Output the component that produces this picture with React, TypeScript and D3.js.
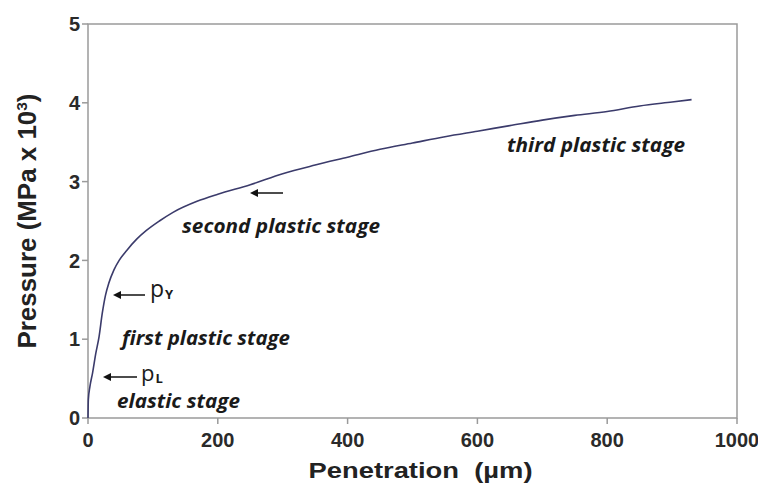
import React from 'react';
import * as d3 from 'd3';

// penetration (µm) vs pressure (MPa x 10^3)
const penetration = [0, 0.5, 3, 7, 12, 17, 22, 27, 32, 40, 48, 60, 75, 90, 110, 131, 168, 200, 250, 300, 350, 400, 450, 500, 550, 600, 650, 700, 750, 800, 850, 900, 930];
const pressure = [0, 0.23, 0.4, 0.57, 0.82, 1.03, 1.33, 1.56, 1.71, 1.88, 2.0, 2.13, 2.27, 2.38, 2.5, 2.61, 2.75, 2.84, 2.96, 3.1, 3.21, 3.31, 3.41, 3.49, 3.57, 3.64, 3.71, 3.78, 3.84, 3.89, 3.96, 4.01, 4.04];
const xTicks = [0, 200, 400, 600, 800, 1000];
const yTicks = [0, 1, 2, 3, 4, 5];

const W = 758;
const H = 484;
const margin = { left: 88, right: 21, top: 24, bottom: 66 };

const App = () => {
  const x = d3.scaleLinear().domain([0, 1000]).range([margin.left, W - margin.right]);
  const y = d3.scaleLinear().domain([0, 5]).range([H - margin.bottom, margin.top]);

  const points = penetration.map((p, i) => [p, pressure[i]] as [number, number]);
  const line = d3.line<[number, number]>()
    .x((d) => x(d[0]))
    .y((d) => y(d[1]))
    .curve(d3.curveMonotoneX);

  const axisColor = '#9a9a9a';
  const tickFont = { fontFamily: 'Liberation Sans, Arial, sans-serif', fontWeight: 700, fontSize: 20, fill: '#2a2a2a' };
  const noteFont = { fontFamily: 'Open Sans, sans-serif', fontWeight: 700, fontStyle: 'italic', fontSize: 20, fill: '#1a1a1a', lengthAdjust: 'spacingAndGlyphs' };

  // arrow helper: from annotation text toward the curve
  const arrow = (x1: number, x2: number, yy: number) => (
    <g>
      <line x1={x1} y1={yy} x2={x2 + 6} y2={yy} stroke="#111" strokeWidth={1.5} />
      <path d={`M${x2},${yy} L${x2 + 8},${yy - 4} L${x2 + 8},${yy + 4} Z`} fill="#111" />
    </g>
  );

  return (
    <svg width={W} height={H} style={{ position: 'absolute', left: 0, top: 0, background: '#fff' }}>
      {/* frame */}
      <rect x={x(0)} y={y(5)} width={x(1000) - x(0)} height={y(0) - y(5)} fill="none" stroke={axisColor} strokeWidth={1.5} />

      {/* y axis */}
      {yTicks.map((t) => (
        <g key={'y' + t}>
          <line x1={x(0) - 6} x2={x(0)} y1={y(t)} y2={y(t)} stroke={axisColor} strokeWidth={1.5} />
          <text x={x(0) - 8} y={y(t)} dy="0.36em" textAnchor="end" {...tickFont}>{t}</text>
        </g>
      ))}

      {/* x axis */}
      {xTicks.map((t) => (
        <g key={'x' + t}>
          <line x1={x(t)} x2={x(t)} y1={y(0)} y2={y(0) + 6} stroke={axisColor} strokeWidth={1.5} />
          <text x={x(t)} y={y(0) + 29} textAnchor="middle" {...tickFont}>{t}</text>
        </g>
      ))}

      <text
        transform={`translate(36, ${(y(0) + y(5)) / 2}) rotate(-90)`}
        textAnchor="middle"
        fontFamily="Liberation Sans, Arial, sans-serif"
        fontWeight={700}
        fontSize={25}
        fill="#222"
        textLength={255}
        lengthAdjust="spacingAndGlyphs"
      >
        Pressure (MPa x 10<tspan dy={-9} fontSize={15}>3</tspan><tspan dy={9}>)</tspan>
      </text>
      <text
        x={(x(0) + x(1000)) / 2 + 8}
        y={478}
        textAnchor="middle"
        fontFamily="Liberation Sans, Arial, sans-serif"
        fontWeight={700}
        fontSize={22}
        fill="#222"
        xmlSpace="preserve"
        textLength={224}
        lengthAdjust="spacingAndGlyphs"
      >
        Penetration  (µm)
      </text>

      {/* curve */}
      <path d={line(points) ?? ''} fill="none" stroke="#3b3b6b" strokeWidth={1.6} />

      {/* annotations */}
      <text x={507} y={152} textLength={178} {...noteFont}>third plastic stage</text>
      <text x={182} y={233} textLength={198} {...noteFont}>second plastic stage</text>
      <text x={122} y={345} textLength={168} {...noteFont}>first plastic stage</text>
      <text x={117} y={408} textLength={123} {...noteFont}>elastic stage</text>
      {arrow(283, 250, 193)}
      {arrow(145, 113, 295)}
      {arrow(137, 103, 377)}
      <text x={150} y={297} fontFamily="Open Sans, sans-serif" fontSize={23} fill="#1a1a1a">
        p<tspan fontSize={13} fontWeight={700} dx={1} dy={2}>Y</tspan>
      </text>
      <text x={141} y={381} fontFamily="Open Sans, sans-serif" fontSize={22} fill="#1a1a1a">
        p<tspan fontSize={13} fontWeight={700} dx={1} dy={2}>L</tspan>
      </text>
    </svg>
  );
};

export default App;
